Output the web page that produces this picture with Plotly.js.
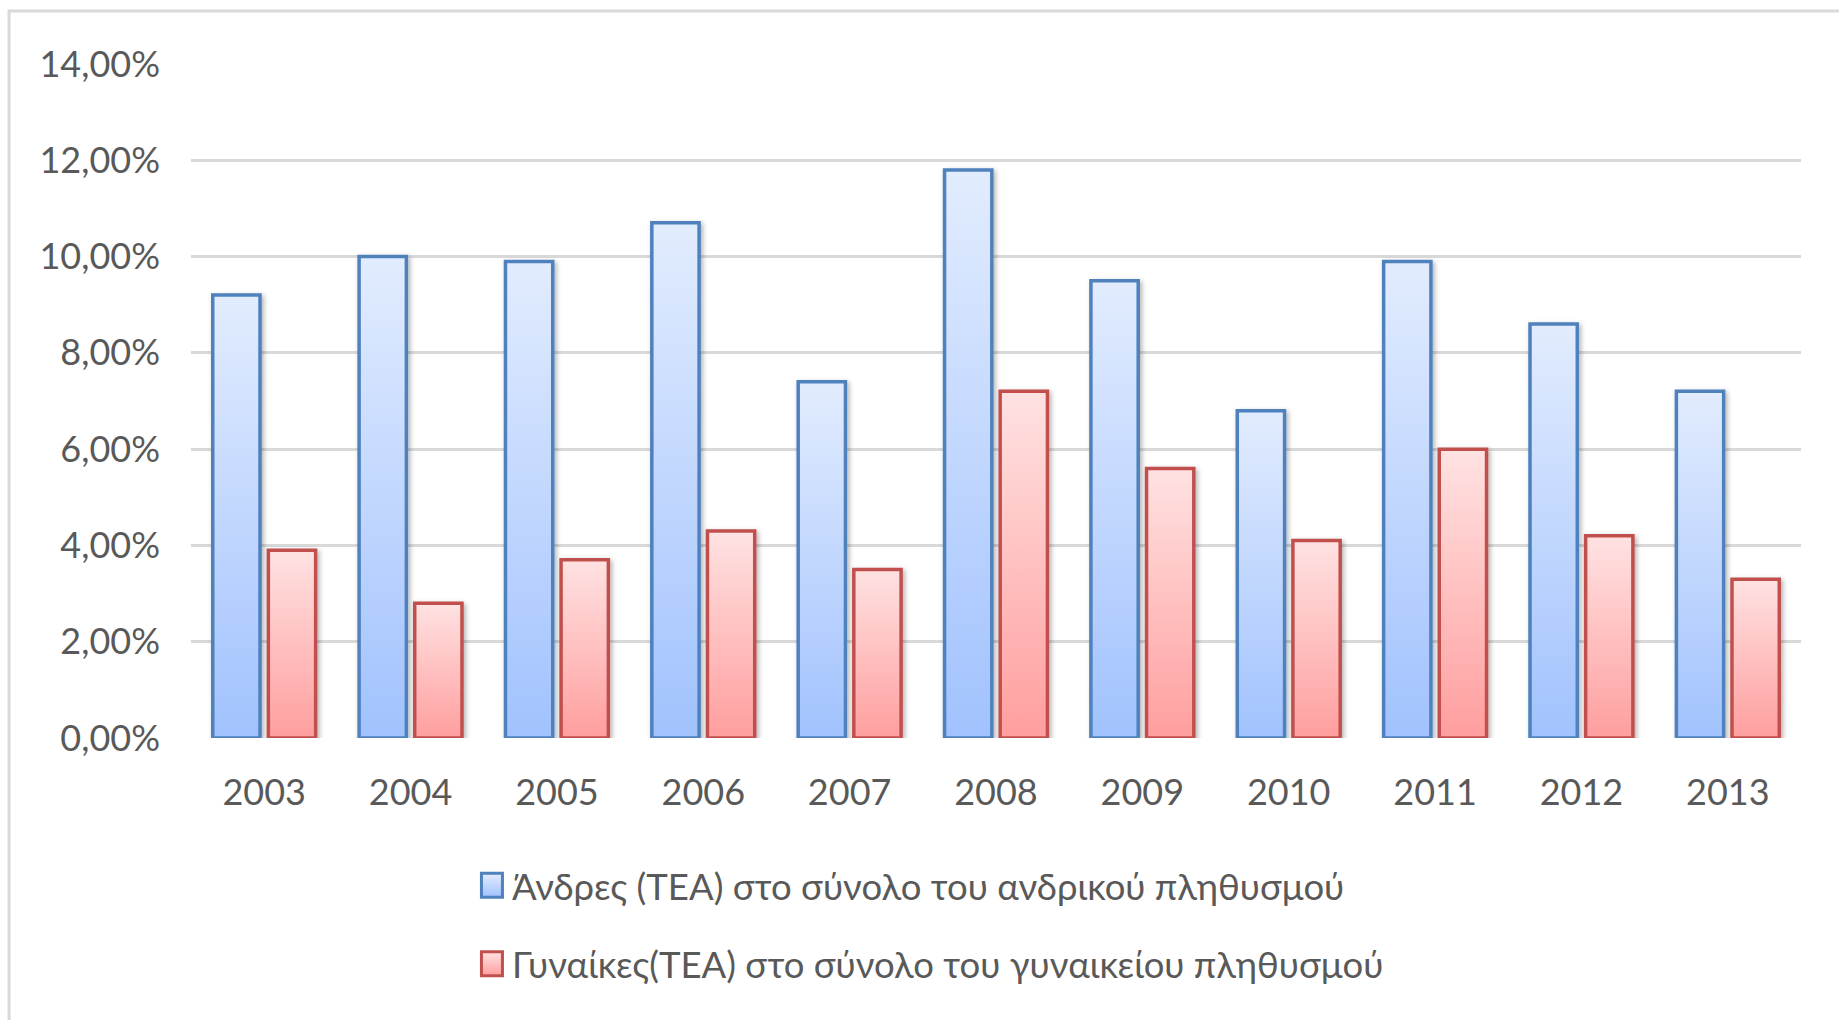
<!DOCTYPE html>
<html>
<head>
<meta charset="utf-8">
<script src="https://cdn.plot.ly/plotly-3.0.1.min.js"></script>
<style>
  html, body { margin: 0; padding: 0; background: #ffffff; }
  #chart { width: 1839px; height: 1020px; }
</style>
</head>
<body>
<div id="chart"></div>
<script>
// Data (percent values)
const years = ['2003', '2004', '2005', '2006', '2007', '2008', '2009', '2010', '2011', '2012', '2013'];
const menValues = [9.2, 10.0, 9.9, 10.7, 7.4, 11.8, 9.5, 6.8, 9.9, 8.6, 7.2];
const womenValues = [3.9, 2.8, 3.7, 4.3, 3.5, 7.2, 5.6, 4.1, 6.0, 4.2, 3.3];
const menName = 'Άνδρες (TEA) στο σύνολο του ανδρικού πληθυσμού';
const womenName = 'Γυναίκες(TEA) στο σύνολο του γυναικείου πληθυσμού';
const yTickValues = [0, 2, 4, 6, 8, 10, 12, 14];
const yTickLabels = ['0,00%', '2,00%', '4,00%', '6,00%', '8,00%', '10,00%', '12,00%', '14,00%'];

const FONT = 'Lato, "Open Sans", sans-serif';
const TEXT = '#595959';

const traces = [
  {
    type: 'bar', x: years, y: menValues, name: menName, legendgroup: 'men',
    marker: { color: '#bcd3fe', line: { color: '#4f81bd', width: 3.5 } },
    hoverinfo: 'skip'
  },
  {
    type: 'bar', x: years, y: womenValues, name: womenName, legendgroup: 'women',
    marker: { color: '#ffc0c0', line: { color: '#c0504d', width: 3.5 } },
    hoverinfo: 'skip'
  }
];

const layout = {
  width: 1839, height: 1020,
  margin: { l: 191, r: 38, t: 64, b: 282, pad: 0 },
  paper_bgcolor: '#ffffff', plot_bgcolor: '#ffffff',
  separators: ',.',
  font: { family: FONT, color: TEXT, size: 36 },
  barmode: 'group', bargap: 0.24, bargroupgap: 0.15,
  showlegend: true,
  legend: {
    orientation: 'v', x: 0.1745, xanchor: 'left', y: -0.1737, yanchor: 'top',
    font: { family: FONT, size: 36.5, color: TEXT },
    tracegroupgap: 28, bgcolor: 'rgba(0,0,0,0)', traceorder: 'grouped'
  },
  xaxis: {
    type: 'category', showgrid: false, zeroline: false, showline: false,
    ticks: '', ticklabelstandoff: 30,
    tickfont: { family: FONT, size: 36, color: TEXT }
  },
  yaxis: {
    range: [0, 14], tickmode: 'array', tickvals: yTickValues, ticktext: yTickLabels,
    showgrid: true, gridcolor: '#d9d9d9', gridwidth: 3,
    zeroline: false, showline: false, ticks: '', ticklabelstandoff: 30,
    tickfont: { family: FONT, size: 36, color: TEXT }
  },
  shapes: [
    { type: 'rect', xref: 'paper', yref: 'paper', x0: -0.113, x1: 1.2, y0: -0.6, y1: 1.0787,
      line: { color: '#d9d9d9', width: 3 }, fillcolor: 'rgba(0,0,0,0)', layer: 'below' }
  ]
};

function decorate(gd) {
  const svg = gd.querySelector('svg.main-svg');
  const ns = 'http://www.w3.org/2000/svg';
  let defs = svg.querySelector('defs');
  if (!defs) { defs = document.createElementNS(ns, 'defs'); svg.insertBefore(defs, svg.firstChild); }
  if (!svg.querySelector('#gBlue')) {
    const grad = function (id, top, bottom) {
      const g = document.createElementNS(ns, 'linearGradient');
      g.setAttribute('id', id);
      g.setAttribute('x1', '0'); g.setAttribute('y1', '0');
      g.setAttribute('x2', '0'); g.setAttribute('y2', '1');
      [[0, top], [1, bottom]].forEach(function (s) {
        const st = document.createElementNS(ns, 'stop');
        st.setAttribute('offset', s[0]);
        st.setAttribute('stop-color', s[1]);
        g.appendChild(st);
      });
      defs.appendChild(g);
    };
    grad('gBlue', '#e2ecfe', '#a1c2fe');
    grad('gRed', '#ffe2e2', '#ff9e9e');
    const f = document.createElementNS(ns, 'filter');
    f.setAttribute('id', 'barShadow');
    f.setAttribute('x', '-20%'); f.setAttribute('y', '-5%');
    f.setAttribute('width', '150%'); f.setAttribute('height', '115%');
    const ds = document.createElementNS(ns, 'feDropShadow');
    ds.setAttribute('dx', '2'); ds.setAttribute('dy', '2');
    ds.setAttribute('stdDeviation', '2.5');
    ds.setAttribute('flood-color', '#000'); ds.setAttribute('flood-opacity', '0.3');
    f.appendChild(ds);
    defs.appendChild(f);
  }
  const fills = ['url(#gBlue)', 'url(#gRed)'];
  gd.querySelectorAll('.barlayer .trace').forEach(function (tr, i) {
    tr.querySelectorAll('path').forEach(function (p) {
      p.style.fill = fills[i];
      p.setAttribute('filter', 'url(#barShadow)');
    });
  });
  gd.querySelectorAll('.legend .traces').forEach(function (tr, i) {
    tr.querySelectorAll('.legendpoints path').forEach(function (p) {
      p.style.fill = fills[i];
      p.setAttribute('d', 'M10.5,12H-10.5V-12H10.5Z');
      p.style.strokeWidth = '3px';
    });
  });
}

Plotly.newPlot('chart', traces, layout, { displayModeBar: false, staticPlot: true }).then(function (gd) {
  decorate(gd);
  gd.on('plotly_afterplot', function () { decorate(gd); });
  setTimeout(function () { decorate(gd); }, 50);
});
</script>
</body>
</html>
